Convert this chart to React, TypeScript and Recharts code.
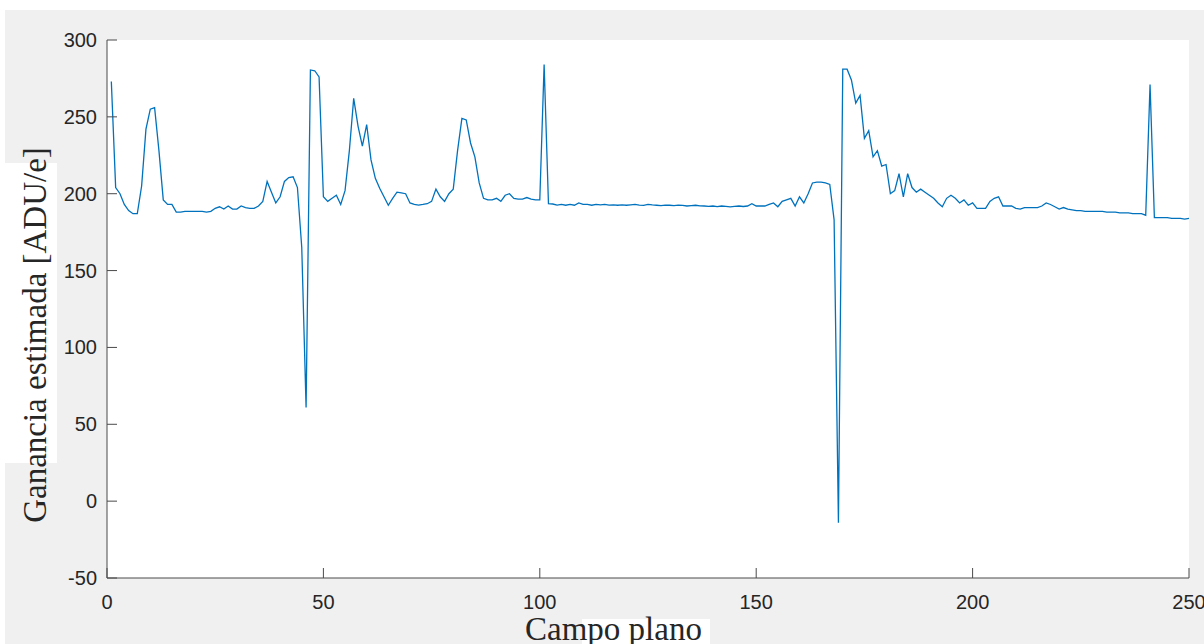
import { LineChart, Line, XAxis, YAxis, CartesianGrid } from "recharts";

// estimated gain per flat field (index 1..250)
const gain = [
  273, 204, 200, 193, 189, 187, 187, 205, 242, 255,
  256, 228, 196, 193, 193, 188, 188, 188.5, 188.5, 188.5,
  188.5, 188.5, 188, 188.5, 190.5, 191.5, 190, 192, 190, 190,
  192, 191, 190.5, 190.5, 192, 195, 208, 201, 194, 198,
  208, 210.5, 211, 204, 165, 61, 280.5, 280, 276, 198,
  195, 197, 199, 193, 202, 228, 262, 244, 231, 245,
  222, 210, 203.5, 198, 192.5, 197, 201, 200.5, 200, 194,
  193, 192.6, 193, 193.5, 195, 203, 198, 195, 200, 203,
  228, 249, 248, 233, 224, 207, 197, 196, 196, 197,
  195, 199, 200, 197, 196.5, 196.5, 197.5, 196.5, 196, 196,
  284, 193.5, 193.3, 192.6, 193, 192.5, 193, 192.5, 194, 193,
  193, 192.5, 193, 192.8, 193, 192.6, 192.8, 192.5, 192.7, 192.5,
  192.8, 193, 192.6, 192.4, 193, 192.7, 192.5, 192.3, 192.6, 192.5,
  192.2, 192.6, 192.4, 192, 192.3, 192.5, 192.1, 192, 191.8, 192,
  191.6, 192, 191.8, 191.5, 191.8, 192, 191.7, 192, 193.5, 192,
  192, 192, 193, 194, 191.5, 195, 196, 197, 192, 198,
  194, 200, 207, 207.5, 207.5, 207, 206, 183, -14, 281,
  281, 274, 259, 264, 236, 241, 224, 228, 218, 219,
  200, 202, 213, 198, 213, 204, 201, 203, 201, 199,
  197, 194, 191.5, 197, 199, 197, 194, 196, 192.5, 194,
  190.5, 190.5, 190.5, 195, 197, 198, 192, 192, 192, 190.5,
  190, 191, 191, 191, 191, 192, 194, 193, 191.5, 190,
  191, 190, 189.5, 189, 189, 188.5, 188.5, 188.5, 188.5, 188.5,
  188, 188, 188, 187.5, 187.5, 187.5, 187, 187, 187, 186,
  271, 184.5, 184.5, 184.5, 184.5, 184, 184, 184, 183.5, 184,
];

const xTicks = [0, 50, 100, 150, 200, 250];
const yTicks = [-50, 0, 50, 100, 150, 200, 250, 300];

const data = gain.map((g, i) => ({ campo: i + 1, gain: g }));

const AXIS = "#4a4a4a";
const TXT = "#262626";
const TICK_FONT = { fontFamily: "'Liberation Sans', Arial, sans-serif", fontSize: 20, fill: TXT };

function BottomTick({ x, y, payload }: any) {
  return (
    <g>
      <line x1={x} y1={y} x2={x} y2={y - 10} stroke={AXIS} />
      <text x={x} y={y + 31} textAnchor="middle" {...TICK_FONT}>
        {payload.value}
      </text>
    </g>
  );
}

function LeftTick({ x, y, payload }: any) {
  return (
    <g>
      <line x1={x} y1={y} x2={x + 10} y2={y} stroke={AXIS} />
      <text x={x - 10} y={y + 7} textAnchor="end" {...TICK_FONT}>
        {payload.value}
      </text>
    </g>
  );
}

function TopTick({ x, y }: any) {
  return <line x1={x} y1={y} x2={x} y2={y + 10} stroke={AXIS} />;
}

function RightTick({ x, y }: any) {
  return <line x1={x} y1={y} x2={x - 10} y2={y} stroke={AXIS} />;
}

export default function App() {
  return (
    <div style={{ position: "absolute", left: 0, top: 0, width: 1204, height: 644, background: "#fff", overflow: "hidden" }}>
      <div style={{ position: "absolute", left: 5, top: 10, width: 1199, height: 634, background: "#f0f0f0" }} />
      {/* white patches behind the labels */}
      <div style={{ position: "absolute", left: 3, top: 163, width: 54, height: 300, background: "#fff" }} />
      <div style={{ position: "absolute", left: 582, top: 619, width: 128, height: 25, background: "#fff" }} />
      <div style={{ position: "absolute", left: 0, top: 0 }}>
        <LineChart width={1204} height={644} data={data} margin={{ top: 40, right: 15, left: 0, bottom: 0 }}>
          <CartesianGrid fill="#ffffff" horizontal={false} vertical={false} />
          <XAxis
            dataKey="campo"
            type="number"
            domain={[0, 250]}
            ticks={xTicks}
            height={66}
            tickSize={0}
            tickMargin={0}
            tickLine={false}
            stroke={AXIS}
            tick={<BottomTick />}
            interval={0}
          />
          <XAxis
            xAxisId="top"
            orientation="top"
            type="number"
            dataKey="campo"
            domain={[0, 250]}
            ticks={xTicks}
            height={0}
            tickSize={0}
            tickMargin={0}
            tickLine={false}
            stroke={AXIS}
            tick={<TopTick />}
            interval={0}
          />
          <YAxis
            type="number"
            domain={[-50, 300]}
            ticks={yTicks}
            width={107}
            tickSize={0}
            tickMargin={0}
            tickLine={false}
            stroke={AXIS}
            tick={<LeftTick />}
            interval={0}
            label={() => (
              <text
                x={35}
                y={335}
                transform="rotate(-90, 35, 335)"
                textAnchor="middle"
                dominantBaseline="central"
                fontFamily="'Liberation Serif', 'Times New Roman', serif"
                fontSize={33}
                fill={TXT}
              >
                Ganancia estimada [ADU/e]
              </text>
            )}
          />
          <YAxis
            yAxisId="right"
            orientation="right"
            type="number"
            domain={[-50, 300]}
            ticks={yTicks}
            width={0}
            tickSize={0}
            tickMargin={0}
            tickLine={false}
            stroke={AXIS}
            tick={<RightTick />}
            interval={0}
          />
          <Line
            type="linear"
            dataKey="gain"
            stroke="#0072BD"
            strokeWidth={1.3}
            dot={false}
            isAnimationActive={false}
          />
        </LineChart>
      </div>
      <div
        style={{
          position: "absolute",
          left: 525,
          top: 613,
          fontFamily: "'Liberation Serif', 'Times New Roman', serif",
          fontSize: 33,
          color: TXT,
          lineHeight: "33px",
          whiteSpace: "nowrap",
        }}
      >
        Campo plano
      </div>
    </div>
  );
}
